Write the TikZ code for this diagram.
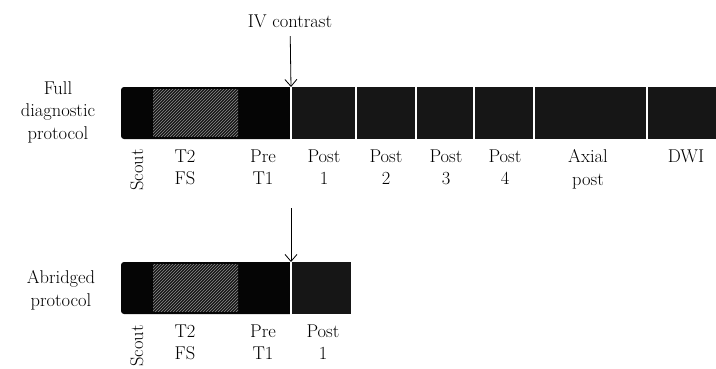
\documentclass[tikz,border=0pt]{standalone}
\usetikzlibrary{arrows.meta,positioning}
\definecolor{preblk}{HTML}{050505}
\definecolor{postblk}{HTML}{161616}
\definecolor{hatchgray}{HTML}{777777}
\tikzset{
	lbl/.style={font=\fontsize{18.5}{22.5}\selectfont, align=center, inner sep=0pt, anchor=north},
	scoutlbl/.style={font=\fontsize{18.5}{22.5}\selectfont, rotate=90, anchor=base, inner sep=0pt},
	postseg/.style={fill=postblk, draw=white, line width=2pt},
	hatch/.style={hatchgray, line width=0.9pt}
}
\begin{document}
\begin{tikzpicture}[x=1pt, y=-1pt, line width=0.8pt,
	>={Straight Barb[length=7pt,width=12pt]}]
	\useasboundingbox (0,0) rectangle (716,368);
	% punkte
	\path
	(291,87) coordinate (fullcut)
	(291,208) coordinate (abrtop)
	(291,262) coordinate (abrcut)
	;
	% full protocol
	\fill[preblk, rounded corners=3pt] (121,87) rectangle (296,139);
	\begin{scope}
		\clip (153,89) rectangle (238,136);
		\foreach \i in {101,104,...,242}
		\draw[hatch] (\i,137) -- (\i+49,88);
	\end{scope}
	\foreach \a/\b in {291/356,356/416,416/474,474/534,534/647,647/720}
	\draw[postseg] (\a,86) rectangle (\b,140);
	% abridged protocol
	\fill[preblk, rounded corners=3pt] (121,262) rectangle (296,314);
	\begin{scope}
		\clip (153,264) rectangle (238,311);
		\foreach \i in {101,104,...,242}
		\draw[hatch] (\i,312) -- (\i+49,263);
	\end{scope}
	\draw[postseg] (291,261) rectangle (352,315);
	% texte
	\node[lbl] (iv) at (290,14.4) {IV contrast};
	\draw[->, shorten <=8pt] (iv) -- (fullcut);
	\draw[->] (abrtop) -- (abrcut);
	\node[lbl] (fulltitle) at (58,81.2) {Full\\diagnostic\\protocol};
	\node[lbl] (abrtitle) at (61,270.2) {Abridged\\protocol};
	\node[scoutlbl] (full-scout) at (143,170) {Scout};
	\node[scoutlbl] (abr-scout) at (143,346) {Scout};
	\foreach \n/\x/\t in {t2/185/{T2\\FS}, pre/263/{Pre\\T1}, p1/324/{Post\\1},
		p2/386/{Post\\2}, p3/446/{Post\\3}, p4/505/{Post\\4},
		axial/588/{Axial\\post}, dwi/686/{DWI}}{
		\node[lbl] (full-\n) at (\x,149.4) {\t};}
	\foreach \n/\x/\t in {t2/185/{T2\\FS}, pre/263/{Pre\\T1}, p1/323/{Post\\1}}{
		\node[lbl] (abr-\n) at (\x,324.4) {\t};}
\end{tikzpicture}
\end{document}
